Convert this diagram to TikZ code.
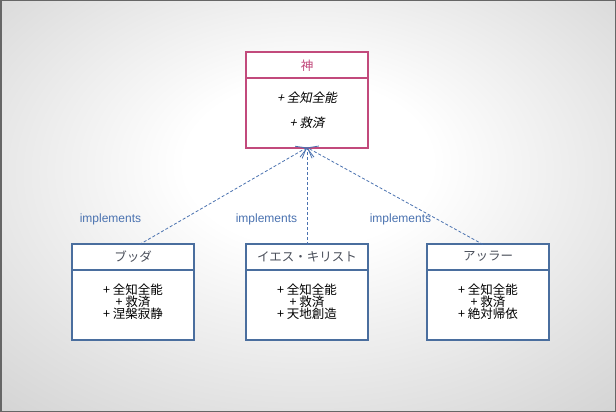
\documentclass[tikz,border=0pt]{standalone}
\usepackage{fontspec}
\usepackage{tikz}
\usetikzlibrary{arrows.meta,positioning}
\newfontfamily\jpfont{Noto Sans CJK JP}
\newfontfamily\jpslant[FakeSlant=0.2]{Noto Sans CJK JP}
\newfontfamily\labfont{Liberation Sans}
\definecolor{godpink}{HTML}{C24A7C}
\definecolor{clsblue}{HTML}{4A6E9E}
\definecolor{lnkblue}{HTML}{4A72B0}
\definecolor{headgray}{HTML}{4A4F5A}
\pgfdeclareradialshading{bgshade}{\pgfpoint{0bp}{6bp}}{color(0bp)=(white); color(10bp)=(white); color(72bp)=(black!38)}
\tikzset{
  classhead/.style={draw=clsblue, line width=2pt, fill=white, outer sep=0pt,
    minimum width=122pt, minimum height=26pt, inner sep=0pt,
    text=headgray, font=\jpfont\fontsize{12.5}{13}\selectfont},
  classbody/.style={draw=clsblue, line width=2pt, fill=white, outer sep=0pt,
    minimum width=122pt, minimum height=70pt, inner sep=0pt},
  classops/.style={align=center, inner sep=0pt, font=\jpfont\fontsize{12.5}{11.8}\selectfont},
  implink/.style={draw=lnkblue, dash pattern=on 3pt off 2pt, line width=0.8pt,
    -{Straight Barb[length=9pt,width=14pt]}},
  implabel/.style={text=lnkblue, font=\labfont\fontsize{12}{12}\selectfont}
}
\begin{document}
\begin{tikzpicture}[x=1pt,y=-1pt]
  % background
  \shade[shading=bgshade] (0,0) rectangle (616,412);
  \draw[black!60,line width=1.5pt] (0.75,0.75) rectangle (615.25,411.25);
  \useasboundingbox (0,0) rectangle (616,412);
%god
  \node[classhead, draw=godpink, text=godpink] (god) at (307,65.5) {神};
  \node[classbody, draw=godpink, minimum height=69pt, below=0pt of god] (godbody) {};
  \node[classops, font=\jpslant\fontsize{12.5}{25}\selectfont] (godops)
    at ([yshift=2.5pt]godbody.center) {+ 全知全能\\+ 救済};
%buddha
  \node[classhead] (buddha) at (133,256.5) {ブッダ};
  \node[classbody, below=0pt of buddha] (buddhabody) {};
  \node[classops] (buddhaops) at ([yshift=3pt]buddhabody.center) {+ 全知全能\\+ 救済\\+ 涅槃寂静};
%jesus
  \node[classhead] (jesus) at (307,256.5) {イエス・キリスト};
  \node[classbody, below=0pt of jesus] (jesusbody) {};
  \node[classops] (jesusops) at ([yshift=3pt]jesusbody.center) {+ 全知全能\\+ 救済\\+ 天地創造};
%allah
  \node[classhead] (allah) at (488,256.5) {アッラー};
  \node[classbody, below=0pt of allah] (allahbody) {};
  \node[classops] (allahops) at ([yshift=3pt]allahbody.center) {+ 全知全能\\+ 救済\\+ 絶対帰依};
%links
  \draw[implink] ([xshift=6.5pt,yshift=-1pt]buddha.north) -- (godbody.south);
  \draw[implink] ([yshift=-1pt]jesus.north) -- (godbody.south);
  \draw[implink] ([xshift=-5pt,yshift=-1pt]allah.north) -- (godbody.south);
  \node[implabel] (lab1) at (110.5,219.5) {implements};
  \node[implabel] (lab2) at (266.5,219.5) {implements};
  \node[implabel] (lab3) at (400.5,219.5) {implements};
\end{tikzpicture}
\end{document}
